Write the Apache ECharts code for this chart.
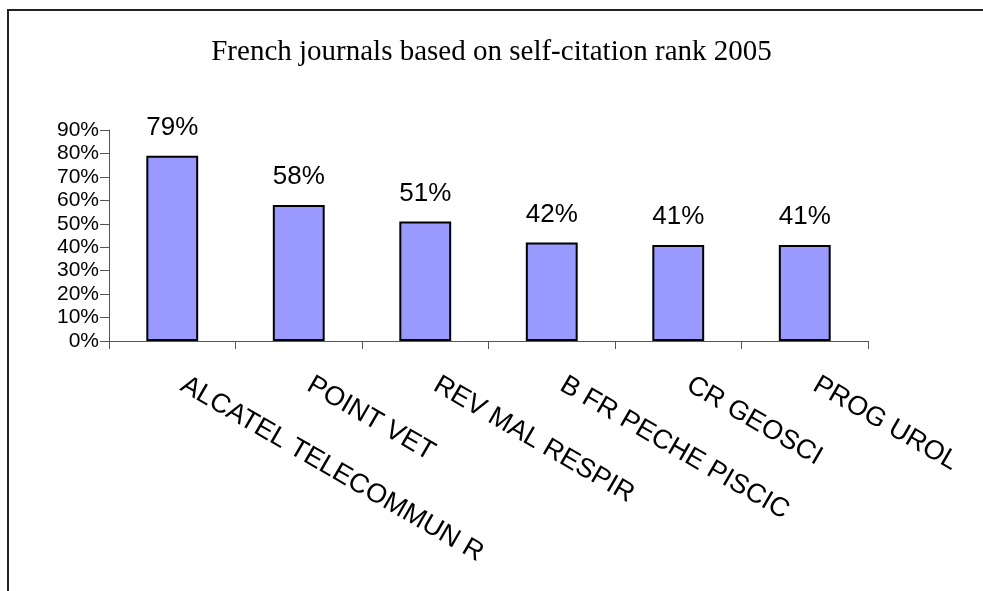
<!DOCTYPE html>
<html>
<head>
<meta charset="utf-8">
<script src="https://cdn.jsdelivr.net/npm/echarts@6/dist/echarts.min.js"></script>
<style>
  html, body { margin: 0; padding: 0; background: #fff; }
  #chart { width: 983px; height: 591px; }
</style>
</head>
<body>
<div id="chart"></div>
<script>
// journals and their self-citation share (%)
const journals = ["ALCATEL TELECOMMUN R", "POINT VET", "REV MAL RESPIR", "B FR PECHE PISCIC", "CR GEOSCI", "PROG UROL"];
const selfCitation = [79, 58, 51, 42, 41, 41];
const yTicks = [0, 10, 20, 30, 40, 50, 60, 70, 80, 90];

const chart = echarts.init(document.getElementById("chart"));

const option = {
  animation: false,
  title: {
    text: "French journals based on self-citation rank 2005",
    left: "center",
    top: 33,
    textStyle: {
      fontFamily: "Liberation Serif",
      fontWeight: "normal",
      fontSize: 29,
      color: "#000"
    }
  },
  // frame round the chart, open at right/bottom like the source
  graphic: [{
    type: "rect",
    shape: { x: 8, y: 10, width: 1100, height: 700 },
    style: { fill: "none", stroke: "#222", lineWidth: 2 },
    silent: true
  }],
  grid: { left: 109, right: 115, top: 130, bottom: 250 },
  xAxis: {
    type: "category",
    data: journals,
    axisLine: { lineStyle: { color: "#555", width: 1 } },
    axisTick: { show: true, length: 8, lineStyle: { color: "#555" } },
    axisLabel: {
      interval: 0,
      rotate: -30,
      margin: 36,
      padding: [0, 0, 0, 12],
      fontFamily: "Liberation Sans",
      fontSize: 27,
      color: "#000"
    }
  },
  yAxis: {
    type: "value",
    min: yTicks[0],
    max: yTicks[yTicks.length - 1],
    interval: 10,
    splitLine: { show: false },
    axisLine: { show: true, lineStyle: { color: "#555", width: 1 } },
    axisTick: { show: true, length: 9, lineStyle: { color: "#555" } },
    axisLabel: {
      formatter: "{value}%",
      margin: 10,
      fontFamily: "Liberation Sans",
      fontSize: 21,
      color: "#000"
    }
  },
  series: [{
    type: "bar",
    data: selfCitation,
    barCategoryGap: "59%",
    itemStyle: { color: "#9999FF", borderColor: "#000", borderWidth: 2 },
    label: {
      show: true,
      position: "top",
      distance: 15,
      formatter: "{c}%",
      fontFamily: "Liberation Sans",
      fontSize: 26,
      color: "#000"
    }
  }]
};

chart.setOption(option);
</script>
</body>
</html>
